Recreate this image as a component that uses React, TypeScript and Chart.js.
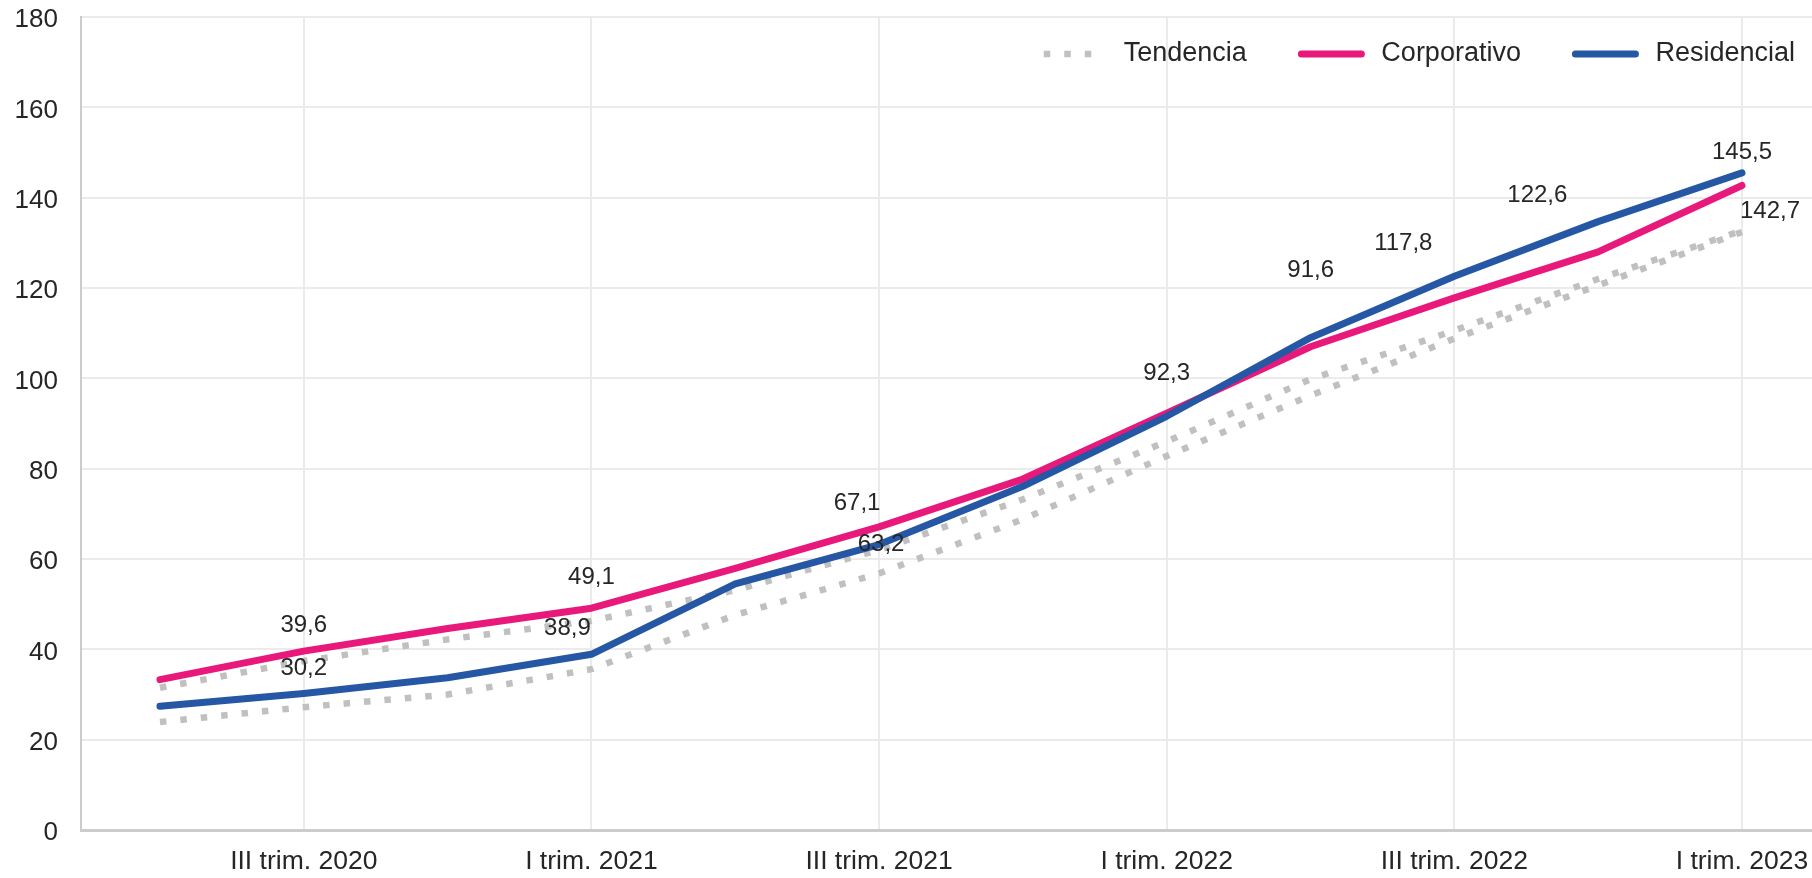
import React, { useEffect, useRef } from 'react';
import { Chart, registerables } from 'chart.js';

Chart.register(...registerables);

// ---- Data ----
const categories = [
  'II trim. 2020', 'III trim. 2020', 'IV trim. 2020', 'I trim. 2021',
  'II trim. 2021', 'III trim. 2021', 'IV trim. 2021', 'I trim. 2022',
  'II trim. 2022', 'III trim. 2022', 'IV trim. 2022', 'I trim. 2023',
];
const labeledTickIndexes = [1, 3, 5, 7, 9, 11];
const corporativo = [33.3, 39.6, 44.6, 49.1, 57.9, 67.1, 77.7, 92.3, 107.0, 117.8, 128.0, 142.7];
const residencial = [27.4, 30.2, 33.7, 38.9, 54.5, 63.2, 76.1, 91.6, 109.0, 122.6, 134.7, 145.5];
const tendenciaCorporativo = [31.5, 37.4, 42.2, 46.3, 53.1, 62.0, 73.2, 86.0, 99.8, 110.6, 122.0, 132.7];
const tendenciaResidencial = [23.9, 27.2, 30.0, 35.6, 47.6, 56.8, 68.8, 82.8, 96.2, 108.8, 120.6, 132.4];
const yMin = 0;
const yMax = 180;
const yStep = 20;

// Which values get a text label, and where the label sits relative to its point (px)
const labelPlacement = [
  { series: 'corp', index: 1, dx: 0, dy: -26 },
  { series: 'corp', index: 3, dx: 0, dy: -31 },
  { series: 'corp', index: 5, dx: -22, dy: -24 },
  { series: 'corp', index: 7, dx: 0, dy: -40 },
  { series: 'corp', index: 9, dx: -51, dy: -55 },
  { series: 'corp', index: 11, dx: 28, dy: 26 },
  { series: 'res', index: 1, dx: 0, dy: -25 },
  { series: 'res', index: 3, dx: -24, dy: -26 },
  { series: 'res', index: 5, dx: 2, dy: 0 },
  { series: 'res', index: 7, dx: 144, dy: -146 },
  { series: 'res', index: 9, dx: 83, dy: -81 },
  { series: 'res', index: 11, dx: 0, dy: -20 },
];

const FONT = '"Liberation Sans", Arial, Helvetica, sans-serif';
const TEXT = '#262626';
const PINK = '#e8197a';
const BLUE = '#2557a5';
const GREY = '#c0c0c0';
const GRID = '#ebebeb';
const AXIS = '#cccccc';

const toPoints = (arr: number[]) => arr.map((v, i) => ({ x: i, y: v }));

const dataLabelPlugin = {
  id: 'dataLabelPlugin',
  afterDatasetsDraw(chart: any) {
    const { ctx } = chart;
    const xs = chart.scales.x;
    const ys = chart.scales.y;
    ctx.save();
    ctx.font = `24px ${FONT}`;
    ctx.fillStyle = TEXT;
    ctx.textAlign = 'center';
    ctx.textBaseline = 'middle';
    for (const p of labelPlacement) {
      const values = p.series === 'corp' ? corporativo : residencial;
      const v = values[p.index];
      const px = xs.getPixelForValue(p.index) + p.dx;
      const py = ys.getPixelForValue(v) + p.dy;
      ctx.fillText(v.toFixed(1).replace('.', ','), px, py);
    }
    ctx.restore();
  },
};

// Custom legend drawn inside the plot area, top right
const legendOrder = [2, 1, 0];
const legendPlugin = {
  id: 'insideLegend',
  afterDraw(chart: any) {
    const { ctx } = chart;
    const area = chart.chartArea;
    const sampleW = 60;
    const textOffset = 80;
    const gap = 54.5;
    const rightPad = 17;
    const cy = area.top + 37;
    ctx.save();
    ctx.font = `27px ${FONT}`;
    ctx.textBaseline = 'middle';
    ctx.textAlign = 'left';
    let right = area.right - rightPad;
    const items = legendOrder.map((i) => chart.data.datasets[i]).reverse();
    for (const ds of items) {
      const tw = ctx.measureText(ds.label).width;
      const textX = right - tw;
      const sx = textX - textOffset;
      ctx.beginPath();
      ctx.strokeStyle = ds.borderColor;
      ctx.lineWidth = ds.borderWidth;
      ctx.lineCap = ds.borderCapStyle || 'butt';
      ctx.setLineDash(ds.borderDash || []);
      ctx.moveTo(sx, cy);
      ctx.lineTo(sx + sampleW, cy);
      ctx.stroke();
      ctx.setLineDash([]);
      ctx.fillStyle = TEXT;
      ctx.fillText(ds.label, textX, cy);
      right = sx - gap;
    }
    ctx.restore();
  },
};

export default function App() {
  const canvasRef = useRef<HTMLCanvasElement | null>(null);

  useEffect(() => {
    if (!canvasRef.current) return;
    const chart = new Chart(canvasRef.current, {
      type: 'line',
      data: {
        datasets: [
          {
            label: 'Residencial',
            data: toPoints(residencial),
            borderColor: BLUE,
            backgroundColor: BLUE,
            borderWidth: 7,
            borderCapStyle: 'round',
            borderJoinStyle: 'round',
            pointRadius: 0,
            tension: 0,
            order: 1,
          },
          {
            label: 'Corporativo',
            data: toPoints(corporativo),
            borderColor: PINK,
            backgroundColor: PINK,
            borderWidth: 7,
            borderCapStyle: 'round',
            borderJoinStyle: 'round',
            pointRadius: 0,
            tension: 0,
            order: 2,
          },
          {
            label: 'Tendencia',
            data: toPoints(tendenciaCorporativo),
            borderColor: GREY,
            backgroundColor: GREY,
            borderWidth: 6.5,
            borderDash: [6.5, 14],
            borderCapStyle: 'butt',
            pointRadius: 0,
            tension: 0,
            order: 3,
          },
          {
            label: 'Tendencia',
            data: toPoints(tendenciaResidencial),
            borderColor: GREY,
            backgroundColor: GREY,
            borderWidth: 6.5,
            borderDash: [6.5, 14],
            borderCapStyle: 'butt',
            pointRadius: 0,
            tension: 0,
            order: 4,
          },
        ],
      } as any,
      options: {
        animation: false,
        responsive: true,
        maintainAspectRatio: false,
        layout: { padding: { left: 15, top: 17, right: 0, bottom: 0 } },
        plugins: {
          legend: { display: false },
          tooltip: { enabled: false },
        },
        scales: {
          x: {
            type: 'linear',
            min: -0.549,
            max: 11.487,
            afterBuildTicks: (scale: any) => {
              scale.ticks = labeledTickIndexes.map((v) => ({ value: v }));
            },
            afterFit: (scale: any) => {
              scale.paddingLeft = 0;
              scale.paddingRight = 0;
              scale.height = 48;
            },
            ticks: {
              autoSkip: false,
              maxRotation: 0,
              padding: 16,
              color: TEXT,
              font: { family: FONT, size: 26.5 },
              callback: (v: any) => categories[v as number],
            },
            grid: { color: GRID, lineWidth: 2, drawTicks: false },
            border: { color: AXIS, width: 3 },
          },
          y: {
            min: yMin,
            max: yMax,
            afterFit: (scale: any) => {
              scale.paddingTop = 0;
              scale.paddingBottom = 0;
              scale.width = 66;
            },
            ticks: {
              stepSize: yStep,
              padding: 23,
              labelOffset: 3,
              color: TEXT,
              font: { family: FONT, size: 26 },
            },
            grid: { color: GRID, lineWidth: 2, drawTicks: false },
            border: { color: AXIS, width: 2 },
          },
        },
      } as any,
      plugins: [dataLabelPlugin, legendPlugin],
    });
    return () => chart.destroy();
  }, []);

  return (
    <div
      style={{
        position: 'absolute',
        left: 0,
        top: 0,
        width: 1812,
        height: 878,
        background: '#ffffff',
      }}
    >
      <canvas ref={canvasRef} />
    </div>
  );
}
